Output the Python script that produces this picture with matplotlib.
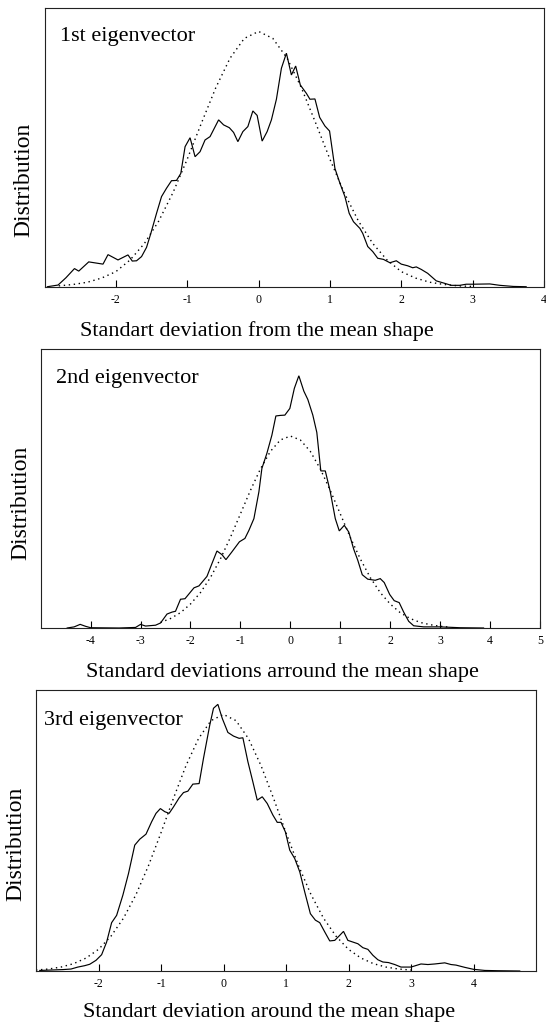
import matplotlib
matplotlib.use("Agg")
import matplotlib.pyplot as plt

plt.rcParams["font.family"] = ["Liberation Serif", "DejaVu Serif"]
plt.rcParams["axes.unicode_minus"] = False

# ---- 1st eigenvector: observed distribution and fitted normal ----
p1_x = [-2.96, -2.81, -2.70, -2.58, -2.52, -2.38, -2.18, -2.11, -1.97, -1.83,
        -1.77, -1.71, -1.64, -1.57, -1.51, -1.43, -1.36, -1.29, -1.22, -1.15,
        -1.09, -1.03, -0.96, -0.89, -0.82, -0.75, -0.68, -0.56, -0.49, -0.41,
        -0.35, -0.29, -0.22, -0.15, -0.08, -0.02, 0.05, 0.12, 0.18, 0.25,
        0.32, 0.39, 0.46, 0.52, 0.585, 0.67, 0.72, 0.79, 0.856, 0.93,
        0.995, 1.07, 1.14, 1.21, 1.27, 1.33, 1.42, 1.46, 1.53, 1.60,
        1.67, 1.75, 1.84, 1.93, 2.00, 2.09, 2.16, 2.21, 2.28, 2.37,
        2.49, 2.61, 2.70, 2.82, 2.91, 3.01, 3.24, 3.38, 3.57, 3.75]
p1_y = [0.1, 0.7, 3.3, 6.6, 5.7, 9.0, 8.2, 11.6, 9.7, 11.5,
        9.3, 9.4, 10.9, 14.2, 19.2, 26.4, 32.4, 35.4, 38.1, 38.2,
        40.7, 50.3, 53.5, 46.7, 48.5, 52.7, 53.9, 59.9, 58.1, 57.1,
        55.4, 52.1, 55.7, 57.5, 63.1, 61.5, 52.3, 55.7, 59.9, 67.3,
        78.4, 83.8, 76.0, 79.2, 72.4, 69.4, 67.3, 67.4, 60.8, 57.7,
        55.9, 42.5, 37.2, 32.4, 26.4, 23.4, 21.0, 19.2, 14.5, 12.7,
        10.3, 9.9, 8.7, 9.4, 8.2, 7.6, 6.9, 7.2, 6.3, 4.9,
        2.2, 1.3, 0.6, 0.6, 1.0, 1.0, 1.1, 0.6, 0.2, 0.1]
p1_fit_x = [-2.8, -2.6, -2.4, -2.2, -2.0, -1.8, -1.6, -1.4, -1.2, -1.0,
            -0.8, -0.6, -0.4, -0.2, 0.0, 0.2, 0.4, 0.6, 0.8, 1.0,
            1.2, 1.4, 1.6, 1.8, 2.0, 2.2, 2.4, 2.6, 2.8, 3.0]
p1_fit_y = [0.4, 0.9, 1.7, 3.2, 5.5, 9.7, 15.6, 23.6, 33.8, 45.8,
            58.8, 71.4, 82.0, 89.1, 91.6, 89.1, 82.0, 71.4, 58.8, 45.8,
            33.8, 23.6, 15.6, 9.7, 5.5, 3.2, 1.7, 0.9, 0.4, 0.2]
p1_ticks = [-2, -1, 0, 1, 2, 3, 4]

# ---- 2nd eigenvector ----
p2_x = [-4.47, -4.33, -4.21, -4.10, -4.00, -3.43, -3.10, -3.00, -2.90, -2.70,
        -2.60, -2.47, -2.37, -2.30, -2.20, -2.11, -1.93, -1.83, -1.67, -1.57,
        -1.47, -1.37, -1.29, -1.17, -1.02, -0.91, -0.83, -0.73, -0.63, -0.57,
        -0.47, -0.37, -0.29, -0.20, -0.11, -0.01, 0.08, 0.17, 0.27, 0.35,
        0.45, 0.53, 0.61, 0.70, 0.80, 0.90, 0.98, 1.08, 1.17, 1.27,
        1.35, 1.44, 1.55, 1.70, 1.80, 1.88, 1.99, 2.08, 2.18, 2.27,
        2.37, 2.47, 2.67, 3.00, 3.40, 3.87]
p2_y = [0.0, 0.4, 1.3, 0.6, 0.1, 0.0, 0.2, 1.3, 0.7, 1.0,
        1.8, 5.0, 5.7, 6.0, 10.3, 10.5, 14.4, 15.1, 18.5, 23.1,
        27.6, 26.3, 24.5, 27.3, 30.9, 32.1, 35.0, 39.2, 48.8, 57.2,
        62.6, 69.1, 76.0, 76.2, 76.3, 78.7, 85.9, 90.4, 84.9, 81.9,
        76.3, 70.1, 56.3, 56.3, 48.8, 39.2, 34.8, 36.8, 34.4, 28.2,
        24.3, 19.1, 17.5, 17.1, 17.7, 16.3, 12.0, 9.8, 9.1, 5.7,
        2.4, 0.8, 0.4, 0.4, 0.1, 0.0]
p2_fit_x = [-2.6, -2.4, -2.2, -2.0, -1.8, -1.6, -1.4, -1.2, -1.0, -0.8,
            -0.6, -0.4, -0.2, 0.0, 0.2, 0.4, 0.6, 0.8, 1.0, 1.2,
            1.4, 1.6, 1.8, 2.0, 2.2, 2.4, 2.6, 2.8, 3.0, 3.2]
p2_fit_y = [2.0, 3.4, 5.5, 8.6, 12.7, 18.1, 24.8, 32.5, 40.9, 49.3,
            57.0, 63.3, 67.4, 68.8, 67.4, 63.3, 57.0, 49.3, 40.9, 32.5,
            24.8, 18.1, 12.7, 8.6, 5.5, 3.4, 2.0, 1.2, 0.6, 0.3]
p2_ticks = [-4, -3, -2, -1, 0, 1, 2, 3, 4, 5]

# ---- 3rd eigenvector ----
p3_x = [-2.94, -2.57, -2.44, -2.33, -2.22, -2.14, -2.04, -1.95, -1.87, -1.79,
        -1.71, -1.61, -1.52, -1.42, -1.34, -1.24, -1.15, -1.08, -1.01, -0.94,
        -0.87, -0.80, -0.71, -0.64, -0.57, -0.49, -0.39, -0.32, -0.22, -0.16,
        -0.09, -0.02, 0.07, 0.16, 0.25, 0.31, 0.39, 0.47, 0.54, 0.62,
        0.70, 0.79, 0.86, 0.92, 0.99, 1.06, 1.14, 1.22, 1.30, 1.39,
        1.47, 1.54, 1.62, 1.70, 1.78, 1.86, 1.92, 1.99, 2.07, 2.15,
        2.23, 2.31, 2.39, 2.47, 2.55, 2.64, 2.74, 2.84, 3.00, 3.16,
        3.27, 3.38, 3.54, 3.64, 3.72, 3.86, 4.00, 4.18, 4.39, 4.74]
p3_y = [0.2, 0.5, 0.7, 1.4, 1.9, 2.4, 3.8, 5.8, 10.3, 17.2,
        19.8, 27.0, 34.7, 44.8, 46.9, 48.7, 53.1, 56.1, 57.8, 56.7,
        56.1, 58.4, 61.6, 63.5, 64.0, 66.5, 66.7, 75.7, 87.5, 93.5,
        94.9, 89.9, 84.9, 83.6, 82.8, 83.0, 74.5, 67.3, 60.8, 62.0,
        59.6, 55.5, 52.9, 52.9, 49.5, 43.0, 40.0, 35.3, 28.1, 20.4,
        18.1, 17.2, 13.9, 10.7, 10.9, 12.7, 14.1, 10.9, 10.3, 9.7,
        8.3, 7.7, 5.6, 4.0, 3.2, 3.0, 2.3, 1.4, 1.4, 2.5,
        2.3, 2.5, 2.9, 2.3, 2.1, 1.3, 0.6, 0.2, 0.1, 0.0]
p3_fit_x = [-3.0, -2.8, -2.6, -2.4, -2.2, -2.0, -1.8, -1.6, -1.4, -1.2,
            -1.0, -0.8, -0.6, -0.4, -0.2, 0.0, 0.2, 0.4, 0.6, 0.8,
            1.0, 1.2, 1.4, 1.6, 1.8, 2.0, 2.2, 2.4, 2.6, 2.8, 3.0]
p3_fit_y = [0.35, 0.7, 1.4, 2.6, 4.6, 7.7, 12.4, 18.8, 27.2, 37.5,
            49.2, 61.5, 73.1, 82.7, 89.1, 91.3, 89.1, 82.7, 73.1, 61.5,
            49.2, 37.5, 27.2, 18.8, 12.4, 7.7, 4.6, 2.6, 1.4, 0.7, 0.35]
p3_ticks = [-2, -1, 0, 1, 2, 3, 4]

titles = ["1st eigenvector", "2nd eigenvector", "3rd eigenvector"]
xlabels = ["Standart deviation from the mean shape",
           "Standard deviations arround the mean shape",
           "Standart deviation around the mean shape"]
ylabel = "Distribution"

W, H = 546, 1027
fig = plt.figure(figsize=(W / 100, H / 100), dpi=100)

# layout in pixels: axes box (left, top, right, bottom), xlabel centre, ylabel centre
layout = [
    dict(box=(44.5, 8, 544, 287), xlim=(-3, 4), xl=(257, 331), yl=(24, 180), tx=(0.032, 0.897)),
    dict(box=(40.7, 349, 540, 628), xlim=(-5, 5), xl=(282, 673), yl=(21, 503), tx=(0.030, 0.895)),
    dict(box=(36, 690, 536, 971), xlim=(-3, 5), xl=(269, 1013), yl=(16, 844), tx=(0.015, 0.893)),
]
series = [(p1_x, p1_y, p1_fit_x, p1_fit_y, p1_ticks),
          (p2_x, p2_y, p2_fit_x, p2_fit_y, p2_ticks),
          (p3_x, p3_y, p3_fit_x, p3_fit_y, p3_ticks)]

for i, (lay, (x, y, fx, fy, ticks)) in enumerate(zip(layout, series)):
    l, t, r, b = lay["box"]
    ax = fig.add_axes([l / W, 1 - b / H, (r - l) / W, (b - t) / H])
    ax.plot(x, y, color="black", lw=0.85, solid_joinstyle="miter")
    ax.plot(fx, fy, color="black", lw=1.0, linestyle=(0, (1, 2.6)))
    ax.set_xlim(*lay["xlim"])
    ax.set_ylim(0, 100)
    ax.set_yticks([])
    ax.set_xticks(ticks)
    ax.set_xticklabels([str(v) for v in ticks])
    ax.tick_params(axis="x", direction="in", length=5, width=0.8,
                   pad=5, labelsize=8.5, colors="black")
    for sp in ax.spines.values():
        sp.set_linewidth(0.8)
        sp.set_color("#222222")
    ax.text(lay["tx"][0], lay["tx"][1], titles[i], transform=ax.transAxes,
            ha="left", va="center", fontsize=16)
    fig.text(lay["xl"][0] / W, 1 - lay["xl"][1] / H, xlabels[i],
             ha="center", va="center", fontsize=16)
    fig.text(lay["yl"][0] / W, 1 - lay["yl"][1] / H, ylabel,
             ha="center", va="center", rotation=90, fontsize=17)

fig.savefig("out.png", dpi=100)
